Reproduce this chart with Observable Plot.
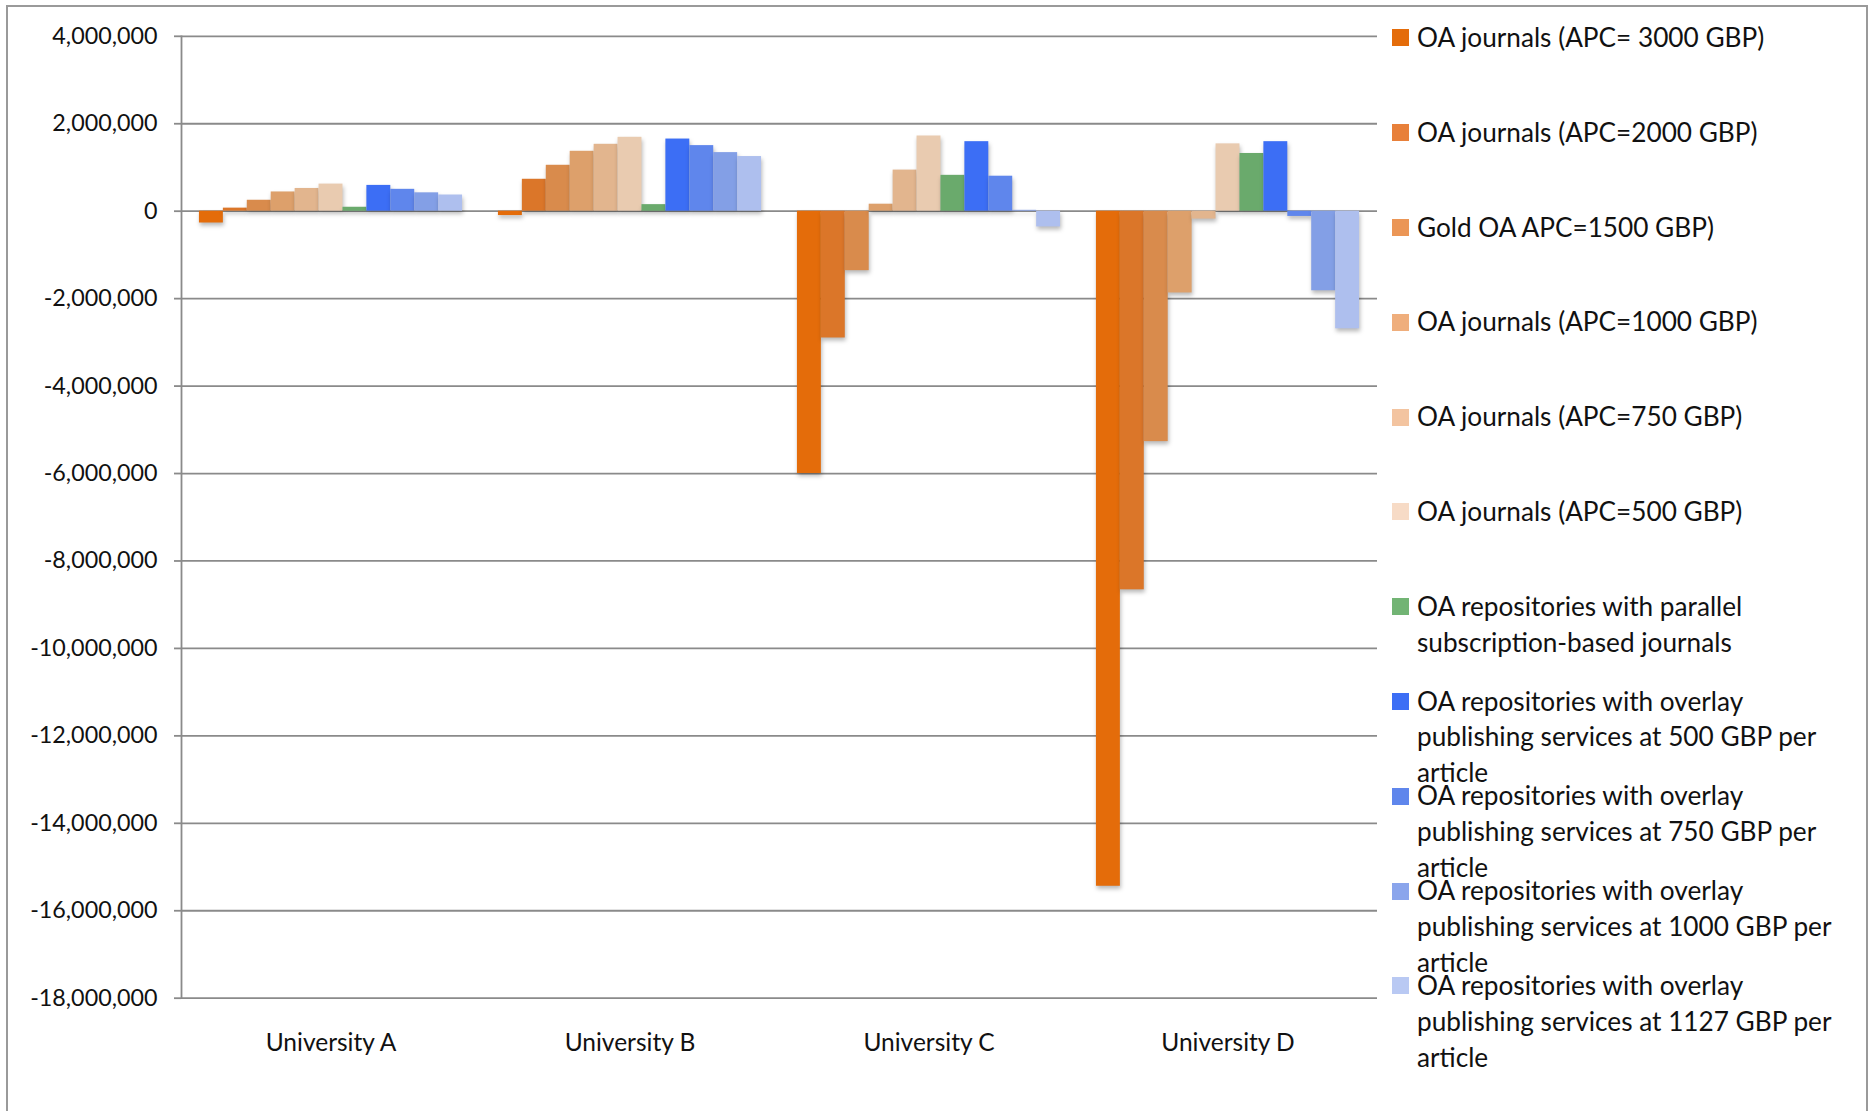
<!DOCTYPE html>
<html>
<head>
<meta charset="utf-8">
<script src="https://cdn.jsdelivr.net/npm/d3@7"></script>
<script src="https://cdn.jsdelivr.net/npm/@observablehq/plot@0.6"></script>
<style>
html, body { margin: 0; padding: 0; background: #fff; overflow: hidden; }
#wrap { position: relative; width: 1869px; height: 1111px; font-family: Lato, sans-serif; }
#border { position: absolute; left: 6px; top: 5px; width: 1862px; height: 1200px; border: 2px solid #9a9a9a; box-sizing: border-box; }
#chart { position: absolute; left: 0; top: 0; }
#legend { position: absolute; left: 1392px; top: 20px; }
.row { display: flex; align-items: flex-start; height: 94.8px; }
.sw { width: 17px; height: 17px; margin-top: 9.4px; margin-right: 8px; flex: none; }
.lab { font-size: 26.2px; line-height: 35.8px; color: #111; white-space: pre; }
#chart g[aria-label="bar"] rect { filter: drop-shadow(1px 3px 2px rgba(0,0,0,0.28)); }
</style>
</head>
<body>
<div id="wrap">
  <div id="border"></div>
  <div id="chart"></div>
  <div id="legend"></div>
</div>
<script>
const universities = ["University A", "University B", "University C", "University D"];

const seriesNames = [
  "OA journals (APC= 3000 GBP)",
  "OA journals (APC=2000 GBP)",
  "Gold OA APC=1500 GBP)",
  "OA journals (APC=1000 GBP)",
  "OA journals (APC=750 GBP)",
  "OA journals (APC=500 GBP)",
  "OA repositories with parallel\nsubscription-based journals",
  "OA repositories with overlay\npublishing services at 500 GBP per\narticle",
  "OA repositories with overlay\npublishing services at 750 GBP per\narticle",
  "OA repositories with overlay\npublishing services at 1000 GBP per\narticle",
  "OA repositories with overlay\npublishing services at 1127 GBP per\narticle"
];

const seriesColors = [
  "#E46C0A", "#DB7629", "#D98B4C", "#DDA06B", "#E2B58E", "#E9CBB0",
  "#6AAA6C", "#3C6EF5", "#5F86EC", "#839FE6", "#AEBFEE"
];

const legendColors = [
  "#E46C0A", "#E8803A", "#EB9656", "#EFAE7C", "#F3C4A0", "#F7DBC6",
  "#72B474", "#3C6EF5", "#5F86EC", "#8AA5EC", "#B9C9F3"
];

const valuesA = [-270000, 70000, 250000, 440000, 520000, 620000, 90000, 590000, 500000, 420000, 370000];
const valuesB = [-100000, 730000, 1050000, 1370000, 1530000, 1690000, 150000, 1650000, 1500000, 1340000, 1250000];
const valuesC = [-6000000, -2900000, -1360000, 160000, 940000, 1720000, 820000, 1590000, 800000, 20000, -360000];
const valuesD = [-15440000, -8660000, -5270000, -1870000, -180000, 1540000, 1320000, 1590000, -120000, -1820000, -2690000];

const yTicks = [4000000, 2000000, 0, -2000000, -4000000, -6000000, -8000000, -10000000, -12000000, -14000000, -16000000, -18000000];

const allValues = [valuesA, valuesB, valuesC, valuesD];
const data = [];
universities.forEach((u, i) => {
  seriesNames.forEach((s, j) => data.push({uni: u, series: s, value: allValues[i][j]}));
});

const fmt = d3.formatLocale({decimal: ".", thousands: ",", grouping: [3], currency: ["", ""], minus: "-"}).format(",");

const gridColor = "#8a8a8a";

const chart = Plot.plot({
  width: 1380,
  height: 1100,
  marginLeft: 181,
  marginRight: 3,
  marginTop: 35.8,
  marginBottom: 102.3,
  style: {fontFamily: "Lato, sans-serif", background: "transparent", color: "#111"},
  facet: {data: data, x: "uni"},
  fx: {domain: universities, padding: 0, label: null, round: false},
  x: {domain: seriesNames, paddingInner: 0, paddingOuter: 0.75, axis: null, round: false},
  y: {domain: [-18000000, 4000000]},
  color: {domain: seriesNames, range: seriesColors},
  marks: [
    Plot.gridY(yTicks, {stroke: gridColor, strokeOpacity: 1, strokeWidth: 1.8}),
    Plot.frame({anchor: "left", stroke: gridColor, strokeWidth: 1.8, facetAnchor: "left"}),
    Plot.axisY(yTicks, {tickFormat: fmt, tickSize: 7, tickPadding: 17, fontSize: 23.3, stroke: gridColor, strokeWidth: 1.8, fill: "#111", label: null}),
    Plot.axisFx({anchor: "bottom", tickSize: 0, tickPadding: 35, fontSize: 24.5, fill: "#111", label: null}),
    Plot.barY(data, {x: "series", y: "value", fill: "series", inset: 0})
  ]
});
document.getElementById("chart").appendChild(chart);

const legend = document.getElementById("legend");
seriesNames.forEach((s, j) => {
  const row = document.createElement("div");
  row.className = "row";
  const sw = document.createElement("div");
  sw.className = "sw";
  sw.style.background = legendColors[j];
  const lab = document.createElement("div");
  lab.className = "lab";
  lab.textContent = s;
  row.appendChild(sw);
  row.appendChild(lab);
  legend.appendChild(row);
});
</script>
</body>
</html>
